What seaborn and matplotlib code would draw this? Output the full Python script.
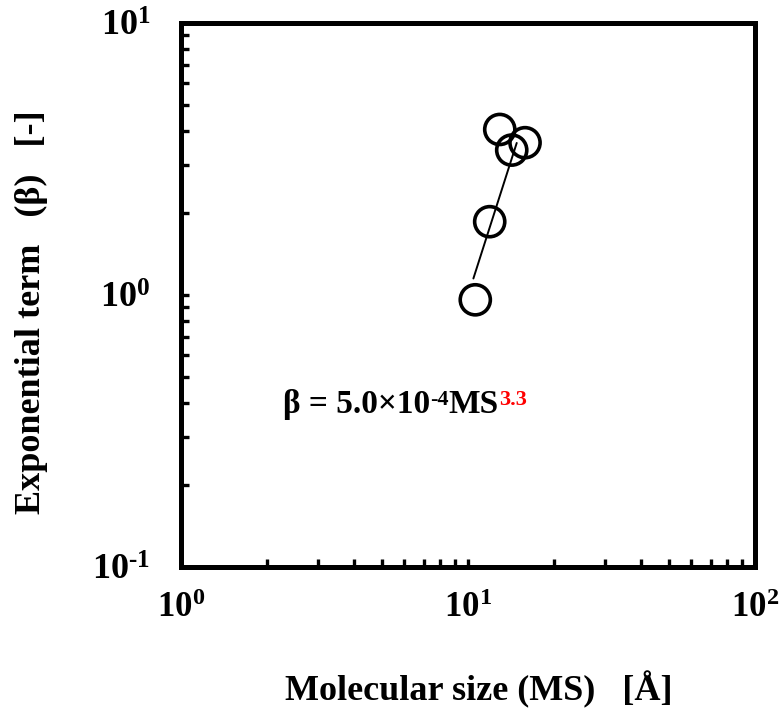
import numpy as np
import pandas as pd
import matplotlib
matplotlib.use("Agg")
import matplotlib.pyplot as plt
from matplotlib.ticker import FixedLocator, FixedFormatter, LogLocator, NullFormatter
import seaborn as sns

# Measured molecular size and fitted exponential term
ms_values = [10.6, 11.9, 12.9, 14.2, 15.8]
beta_values = [0.96, 1.86, 4.06, 3.41, 3.63]

# Power-law fit: beta = coef * MS ** exponent
fit_coef = 5.0e-4
fit_exponent = 3.3
fit_ms_range = [10.44, 14.78]

x_ticks = [1, 10, 100]
x_tick_labels = [r"$\mathbf{10^{0}}$", r"$\mathbf{10^{1}}$", r"$\mathbf{10^{2}}$"]
y_ticks = [0.1, 1, 10]
y_tick_labels = [r"$\mathbf{10^{\text{-}1}}$", r"$\mathbf{10^{0}}$", r"$\mathbf{10^{1}}$"]

sns.set_style("ticks")
plt.rcParams["font.family"] = ["Liberation Serif", "DejaVu Serif"]
plt.rcParams["font.weight"] = "bold"
plt.rcParams["text.color"] = "black"
plt.rcParams["axes.labelcolor"] = "black"
plt.rcParams["xtick.color"] = "black"
plt.rcParams["ytick.color"] = "black"
plt.rcParams["mathtext.fontset"] = "custom"
plt.rcParams["mathtext.rm"] = "Liberation Serif:bold"
plt.rcParams["mathtext.bf"] = "Liberation Serif:bold"
plt.rcParams["mathtext.it"] = "Liberation Serif:bold"

fig = plt.figure(figsize=(7.79, 7.12), dpi=100)
ax = fig.add_axes([0.2324, 0.2037, 0.7368, 0.7640])

points = pd.DataFrame({"MS": ms_values, "beta": beta_values})
fit_x = np.geomspace(fit_ms_range[0], fit_ms_range[1], 50)
fit = pd.DataFrame({"MS": fit_x, "beta": fit_coef * fit_x ** fit_exponent})

sns.lineplot(data=fit, x="MS", y="beta", color="black", linewidth=1.4, ax=ax, zorder=2)
sns.scatterplot(data=points, x="MS", y="beta", marker="o", s=470,
                facecolors="none", edgecolor="black", linewidth=2.6, ax=ax, zorder=3)

ax.set_xscale("log")
ax.set_yscale("log")
ax.set_xlim(1, 100)
ax.set_ylim(0.1, 10)

for side in ["left", "right", "top", "bottom"]:
    ax.spines[side].set_linewidth(3.6)
    ax.spines[side].set_color("black")

ax.xaxis.set_major_locator(FixedLocator(x_ticks))
ax.xaxis.set_major_formatter(FixedFormatter(x_tick_labels))
ax.yaxis.set_major_locator(FixedLocator(y_ticks))
ax.yaxis.set_major_formatter(FixedFormatter(y_tick_labels))
ax.xaxis.set_minor_locator(LogLocator(base=10, subs=np.arange(2, 10)))
ax.yaxis.set_minor_locator(LogLocator(base=10, subs=np.arange(2, 10)))
ax.xaxis.set_minor_formatter(NullFormatter())
ax.yaxis.set_minor_formatter(NullFormatter())

ax.tick_params(which="both", direction="in", top=False, right=False, color="black")
ax.tick_params(which="major", length=6, width=2.4)
ax.tick_params(which="minor", length=6, width=2.4)
ax.tick_params(axis="y", which="major", pad=22, labelsize=26)
ax.tick_params(axis="x", which="major", pad=18, labelsize=25)

ax.set_xlabel("")
ax.set_ylabel("")
fig.text(0.614, 1 - 690 / 712, "Molecular size (MS)   [Å]", ha="center", va="center",
         fontsize=26, fontweight="bold")
fig.text(0.040, 1 - 312 / 712, "Exponential term   (β)   [-]", ha="center", va="center",
         rotation=90, fontsize=26, fontweight="bold")

# Fit equation with superscripts, built from chained text pieces
base = ax.text(0.178, 0.283, "β = 5.0×10", transform=ax.transAxes,
               fontsize=24, fontweight="bold", va="baseline", ha="left")
exp1 = ax.annotate("-4", xy=(1, 0.97), xycoords=base, va="top", ha="left",
                   fontsize=16, fontweight="bold")
ms_txt = ax.annotate("MS", xy=(1, 0), xycoords=(exp1, base), va="bottom", ha="left",
                     fontsize=24, fontweight="bold")
ax.annotate("3.3", xy=(1, 0.97), xycoords=(ms_txt, base), va="top", ha="left",
            fontsize=16, fontweight="bold", color="red")

fig.savefig("out.png", dpi=100)
